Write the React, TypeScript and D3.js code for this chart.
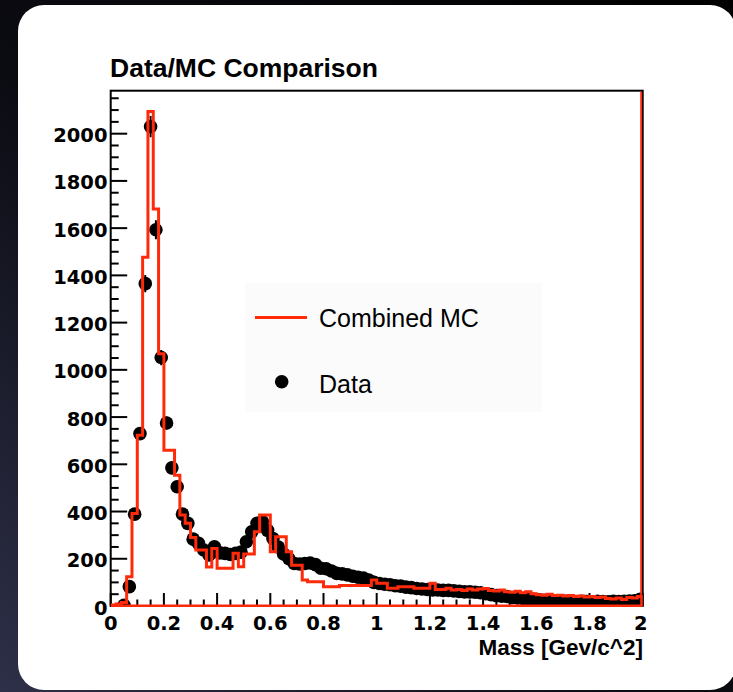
import React from "react";
import * as d3 from "d3";

// 100 bins of width 0.02 on [0, 2]
const binWidth = 0.02;
const mcCounts = [
  4, 8, 15, 124, 392, 723, 1477, 2094, 1681, 1068,
  660, 660, 554, 385, 350, 290, 237, 237, 165, 243,
  160, 160, 160, 223, 166, 220, 220, 314, 385, 385,
  230, 293, 293, 230, 173, 173, 110, 103, 103, 103,
  82, 82, 82, 87, 87, 87, 87, 87, 87, 110,
  96, 96, 75, 75, 82, 82, 82, 75, 75, 75,
  96, 70, 70, 75, 68, 70, 66, 72, 68, 72,
  74, 66, 64, 68, 60, 58, 62, 56, 60, 52,
  48, 46, 50, 44, 46, 42, 44, 40, 42, 38,
  40, 36, 38, 32, 30, 34, 28, 36, 34, 40,
];
const dataCounts = [
  0, 0, 3, 82, 389, 730, 1365, 2030, 1593, 1052,
  775, 585, 505, 389, 350, 283, 265, 237, 216, 251,
  225, 223, 218, 223, 228, 272, 314, 350, 358, 320,
  286, 250, 220, 200, 180, 178, 180, 182, 175, 160,
  158, 148, 138, 136, 132, 126, 122, 118, 110, 100,
  95, 92, 90, 86, 84, 80, 78, 74, 72, 70,
  68, 68, 66, 66, 64, 62, 60, 60, 58, 56,
  52, 48, 44, 42, 40, 36, 34, 32, 30, 28,
  26, 24, 22, 22, 20, 20, 19, 19, 20, 19,
  18, 20, 19, 18, 20, 19, 20, 21, 22, 28,
];
const yMajorTicks = [0, 200, 400, 600, 800, 1000, 1200, 1400, 1600, 1800, 2000];
const xMajorTicks = [0, 0.2, 0.4, 0.6, 0.8, 1, 1.2, 1.4, 1.6, 1.8, 2];
const xTickLabels = ["0", "0.2", "0.4", "0.6", "0.8", "1", "1.2", "1.4", "1.6", "1.8", "2"];

const RED = "#ff2a0a";

export default function App() {
  const left = 110.7, right = 642.7, top = 90.7, bottom = 606;
  const x = d3.scaleLinear().domain([0, 2]).range([left, right]);
  const y = d3.scaleLinear().domain([0, 2182]).range([bottom, top]);

  const yMinor = d3.range(0, 2151, 50).filter((v) => v % 200 !== 0);
  const xMinor = d3.range(0, 2.0001, 0.05).filter((v) => Math.abs(v / 0.2 - Math.round(v / 0.2)) > 1e-6);

  // histogram outline
  let d = `M${x(0)},${y(0)}`;
  mcCounts.forEach((v, i) => {
    d += `L${x(i * binWidth)},${y(v)}L${x((i + 1) * binWidth)},${y(v)}`;
  });
  d += `L${x(2)},${y(0)}`;

  const font = "'Liberation Sans', Arial, Helvetica, sans-serif";
  const tickFont = "'DejaVu Sans', Verdana, sans-serif";

  return (
    <svg width={733} height={692} style={{ position: "fixed", left: 0, top: 0 }}>
      <defs>
        <linearGradient id="bg" x1="1" y1="0" x2="0" y2="1">
          <stop offset="0" stopColor="#000000" />
          <stop offset="0.55" stopColor="#0b0b12" />
          <stop offset="1" stopColor="#2e3049" />
        </linearGradient>
        <clipPath id="frame">
          <rect x={left} y={top - 1} width={right - left} height={bottom - top + 2} />
        </clipPath>
      </defs>
      <rect width={733} height={692} fill="url(#bg)" />
      <rect x={18} y={5} width={718} height={685} rx={26} fill="#ffffff" />

      {/* title */}
      <text x={110} y={77} fontFamily={font} fontWeight="bold" fontSize={26.5} fill="#000">
        Data/MC Comparison
      </text>

      {/* legend */}
      <rect x={245} y={283} width={297} height={129} fill="#fbfbfb" />
      <line x1={255} x2={307} y1={317.5} y2={317.5} stroke={RED} strokeWidth={3} />
      <text x={319} y={327} fontFamily={font} fontSize={25} fill="#000">Combined MC</text>
      <circle cx={281.7} cy={381.7} r={6.8} fill="#000" />
      <text x={319} y={392.5} fontFamily={font} fontSize={25} fill="#000">Data</text>

      {/* frame */}
      <rect x={left} y={top} width={right - left} height={bottom - top} fill="none" stroke="#000" strokeWidth={2} />

      {/* y ticks */}
      {yMajorTicks.map((v) => (
        <g key={"ym" + v}>
          <line x1={left} x2={left + 16.5} y1={y(v)} y2={y(v)} stroke="#000" strokeWidth={2} />
          <text x={107.5} y={y(v) + 8.5} textAnchor="end" fontFamily={tickFont} fontWeight="bold" fontSize={19.5} fill="#000">
            {v}
          </text>
        </g>
      ))}
      {yMinor.map((v) => (
        <line key={"yn" + v} x1={left} x2={left + 8} y1={y(v)} y2={y(v)} stroke="#000" strokeWidth={2} />
      ))}

      {/* x ticks */}
      {xMajorTicks.map((v, i) => (
        <g key={"xm" + v}>
          <line x1={x(v)} x2={x(v)} y1={bottom} y2={bottom - 13} stroke="#000" strokeWidth={2} />
          <text x={x(v) - (i === 10 ? 2 : 0)} y={630} textAnchor="middle" fontFamily={tickFont} fontWeight="bold" fontSize={19.5} fill="#000">
            {xTickLabels[i]}
          </text>
        </g>
      ))}
      {xMinor.map((v) => (
        <line key={"xn" + v} x1={x(v)} x2={x(v)} y1={bottom} y2={bottom - 6.5} stroke="#000" strokeWidth={2} />
      ))}

      <text x={643} y={655} textAnchor="end" fontFamily={font} fontWeight="bold" fontSize={22.5} fill="#000">
        Mass [Gev/c^2]
      </text>

      {/* data points with statistical error bars */}
      <g clipPath="url(#frame)">
        {dataCounts.map((v, i) =>
          v > 0 ? (
            <g key={"p" + i}>
              <line
                x1={x((i + 0.5) * binWidth)}
                x2={x((i + 0.5) * binWidth)}
                y1={y(v + Math.sqrt(v))}
                y2={y(Math.max(0, v - Math.sqrt(v)))}
                stroke="#000"
                strokeWidth={2}
              />
              <circle cx={x((i + 0.5) * binWidth)} cy={y(v)} r={6.8} fill="#000" />
            </g>
          ) : null
        )}
      </g>

      {/* MC histogram */}
      <g clipPath="url(#frame)">
        <path d={d} fill="none" stroke={RED} strokeWidth={3} />
        <line x1={x(0)} x2={x(2)} y1={y(0)} y2={y(0)} stroke={RED} strokeWidth={3} />
        <line x1={x(2) - 1.5} x2={x(2) - 1.5} y1={top + 1} y2={bottom} stroke={RED} strokeWidth={2} />
      </g>
    </svg>
  );
}
